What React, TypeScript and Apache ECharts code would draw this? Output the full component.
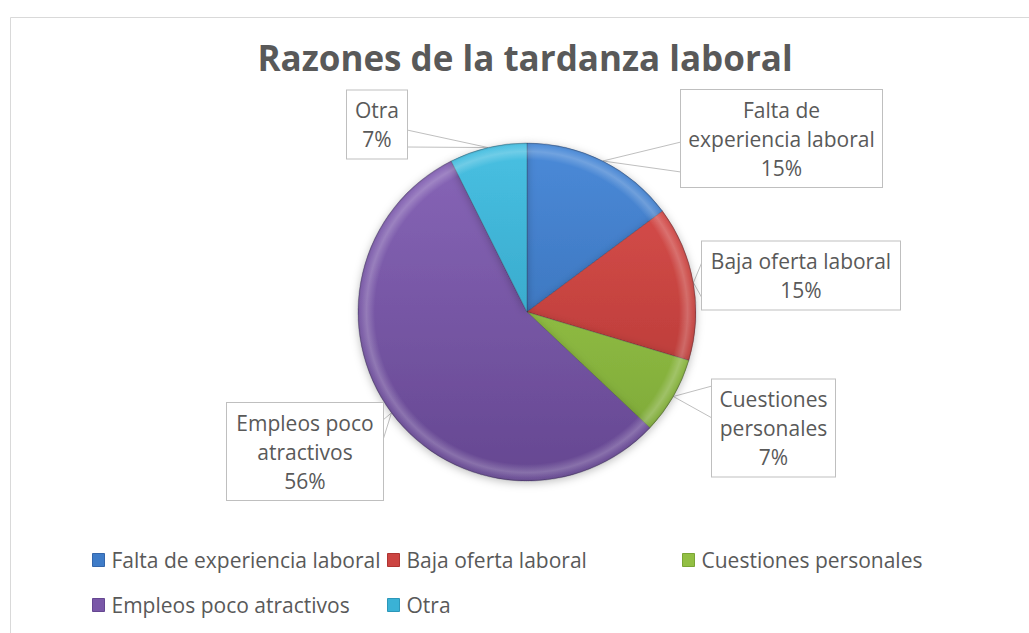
import React, { useEffect, useRef } from "react";
import * as echarts from "echarts";

// ---- data ----
const categories = [
  "Falta de experiencia laboral",
  "Baja oferta laboral",
  "Cuestiones personales",
  "Empleos poco atractivos",
  "Otra",
];
const counts = [4, 4, 2, 15, 2];
const calloutText = [
  "Falta de\nexperiencia laboral",
  "Baja oferta laboral",
  "Cuestiones\npersonales",
  "Empleos poco\natractivos",
  "Otra",
];
const chartTitle = "Razones de la tardanza laboral";

// ---- styles / layout ----
const solidColors = ["#3f7cc8", "#cc4441", "#92bf43", "#7a58a8", "#3ab2d6"];
const lightColors = ["#4a8ad8", "#dc514e", "#a2cf50", "#8866b8", "#48c0e2"];
const darkColors = ["#3466ab", "#ae3431", "#7aa535", "#654791", "#2c97b9"];
const legendColumns = [[0, 3], [1, 4], [2]];
const legendLefts = [92, 387, 682];
// callout boxes: center, size, side of wedge, wedge base y's
const callouts = [
  { cx: 781.5, cy: 138.5, w: 201, h: 97, edge: "left", wedge: [142, 172] },
  { cx: 801, cy: 275.5, w: 198, h: 68, edge: "left", wedge: [262, 298] },
  { cx: 773.5, cy: 428, w: 123, h: 97, edge: "left", wedge: [386, 418] },
  { cx: 305, cy: 451.5, w: 156, h: 97, edge: "right", wedge: [420, 440] },
  { cx: 377, cy: 124.5, w: 60, h: 68, edge: "right", wedge: [130, 147] },
];
const FONT = "'Open Sans', 'Noto Sans', sans-serif";
const PIE_CX = 527;
const PIE_CY = 312;
const PIE_R = 169;

export default function App() {
  const ref = useRef<HTMLDivElement>(null);

  useEffect(() => {
    if (!ref.current) return;
    const chart = echarts.init(ref.current, undefined, { renderer: "svg" });

    const baseData = categories.map((name, i) => ({
      name,
      value: counts[i],
      itemStyle: {
        color: new echarts.graphic.LinearGradient(
          0,
          PIE_CY - PIE_R,
          0,
          PIE_CY + PIE_R,
          [
            { offset: 0, color: lightColors[i] },
            { offset: 1, color: darkColors[i] },
          ],
          true
        ),
      },
      label: { width: callouts[i].w - 10 },
    }));

    const overlayData = categories.map((name, i) => ({ name, value: counts[i] }));

    const option: any = {
      animation: false,
      backgroundColor: "#ffffff",
      graphic: [
        {
          type: "rect",
          shape: { x: 10.5, y: 17.5, width: 1100, height: 700 },
          style: { fill: "none", stroke: "#d9d9d9", lineWidth: 1 },
          silent: true,
          z: -1,
        },
        {
          type: "text",
          x: 525,
          y: 57,
          style: {
            text: chartTitle,
            fill: "#595959",
            font: `bold 35px ${FONT}`,
            textAlign: "center",
            textVerticalAlign: "middle",
          },
          silent: true,
        },
      ],
      legend: legendColumns.map((col, k) => ({
        orient: "vertical",
        left: legendLefts[k],
        top: 547,
        padding: 0,
        itemWidth: 12,
        itemHeight: 13,
        itemGap: 19,
        icon: "rect",
        selectedMode: false,
        data: col.map((i) => ({
          name: categories[i],
          itemStyle: { color: solidColors[i], borderColor: darkColors[i], borderWidth: 1 },
        })),
        textStyle: {
          fontSize: 21,
          color: "#595959",
          fontFamily: FONT,
          lineHeight: 26,
          padding: [0, 0, 0, 2],
        },
      })),
      series: [
        {
          type: "pie",
          center: [PIE_CX, PIE_CY],
          radius: PIE_R,
          startAngle: 90,
          clockwise: true,
          avoidLabelOverlap: false,
          data: baseData,
          itemStyle: {
            borderColor: "rgba(40,40,60,0.35)",
            borderWidth: 0.8,
            shadowBlur: 8,
            shadowOffsetY: 2,
            shadowColor: "rgba(0,0,0,0.25)",
          },
          label: {
            show: true,
            position: "outside",
            formatter: (p: any) => `${calloutText[p.dataIndex]}\n${Math.round(p.percent)}%`,
            color: "#595959",
            fontSize: 21,
            lineHeight: 29,
            fontFamily: FONT,
            align: "center",
            backgroundColor: "#ffffff",
            borderColor: "#bfbfbf",
            borderWidth: 1,
            padding: [5, 5],
          },
          labelLine: {
            show: true,
            length: 10,
            length2: 10,
            lineStyle: { color: "#bfbfbf", width: 1 },
          },
          labelLayout: (params: any) => {
            const b = callouts[params.dataIndex];
            const edgeX = b.edge === "left" ? b.cx - b.w / 2 : b.cx + b.w / 2;
            const pts = params.labelLinePoints;
            const tip = pts && pts[0] ? pts[0] : [edgeX, (b.wedge[0] + b.wedge[1]) / 2];
            return {
              x: b.cx,
              y: b.cy,
              align: "center",
              verticalAlign: "middle",
              labelLinePoints: [
                [edgeX, b.wedge[0]],
                tip,
                [edgeX, b.wedge[1]],
              ],
            };
          },
          emphasis: { disabled: true },
          z: 2,
        },
        {
          type: "pie",
          center: [PIE_CX, PIE_CY],
          radius: PIE_R,
          startAngle: 90,
          clockwise: true,
          silent: true,
          data: overlayData,
          label: { show: false },
          labelLine: { show: false },
          itemStyle: {
            color: new echarts.graphic.RadialGradient(
              PIE_CX,
              PIE_CY,
              PIE_R,
              [
                { offset: 0, color: "rgba(255,255,255,0)" },
                { offset: 0.9, color: "rgba(255,255,255,0)" },
                { offset: 0.95, color: "rgba(255,255,255,0.22)" },
                { offset: 0.985, color: "rgba(255,255,255,0.06)" },
                { offset: 1, color: "rgba(0,0,0,0.18)" },
              ],
              true
            ),
            borderWidth: 0,
          },
          emphasis: { disabled: true },
          z: 3,
        },
      ],
    };

    chart.setOption(option);
    return () => {
      chart.dispose();
    };
  }, []);

  return (
    <div
      ref={ref}
      style={{ position: "absolute", left: 0, top: 0, width: 1029, height: 633 }}
    />
  );
}
